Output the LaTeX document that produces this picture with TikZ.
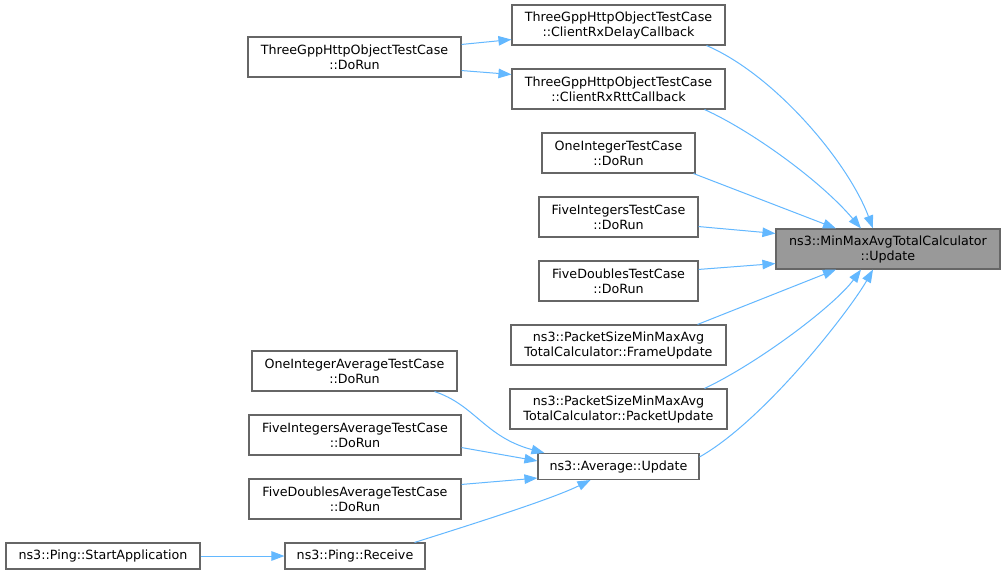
\documentclass[tikz,border=0pt]{standalone}
\usepackage{fontspec}
\setmainfont{DejaVu Sans}
\usetikzlibrary{arrows.meta}
\definecolor{edgeblue}{HTML}{63B8FF}
\definecolor{boxgrey}{HTML}{666666}
\definecolor{hilite}{HTML}{999999}
\begin{document}
\begin{tikzpicture}[x=1pt,y=-1pt,
  fn/.style={draw=boxgrey,line width=1.1pt,fill=white,inner sep=0pt,align=center,
    font=\fontsize{12.7}{15}\selectfont,minimum height=40pt},
  fn1/.style={fn,minimum height=26pt},
  hl/.style={fn,fill=hilite},
  call/.style={draw=edgeblue,line width=1pt,-{Triangle[length=13pt,width=9.5pt]}}]
\useasboundingbox[fill=white] (0,0) rectangle (1005,573);
% nodes
\node[fn,minimum width=213pt] (dorun) at (354.5,57) {ThreeGppHttpObjectTestCase\\::DoRun};
\node[fn,minimum width=213pt] (delay) at (618.5,25) {ThreeGppHttpObjectTestCase\\::ClientRxDelayCallback};
\node[fn,minimum width=213pt] (rtt) at (618.5,89) {ThreeGppHttpObjectTestCase\\::ClientRxRttCallback};
\node[fn,minimum width=153pt] (oneint) at (618.5,153) {OneIntegerTestCase\\::DoRun};
\node[fn,minimum width=159pt] (fiveint) at (618.5,217) {FiveIntegersTestCase\\::DoRun};
\node[fn,minimum width=159pt] (fivedbl) at (618.5,281) {FiveDoublesTestCase\\::DoRun};
\node[fn,minimum width=215pt] (frame) at (618.5,345) {ns3::PacketSizeMinMaxAvg\\TotalCalculator::FrameUpdate};
\node[fn,minimum width=217pt] (packet) at (618.5,409) {ns3::PacketSizeMinMaxAvg\\TotalCalculator::PacketUpdate};
\node[fn1,minimum width=161pt] (avg) at (618.5,466.5) {ns3::Average::Update};
\node[hl,minimum width=224pt] (target) at (888,249) {ns3::MinMaxAvgTotalCalculator\\::Update};
\node[fn,minimum width=205pt] (oneavg) at (354.5,371) {OneIntegerAverageTestCase\\::DoRun};
\node[fn,minimum width=212pt] (fiveintavg) at (355,435) {FiveIntegersAverageTestCase\\::DoRun};
\node[fn,minimum width=212pt] (fivedblavg) at (355,499) {FiveDoublesAverageTestCase\\::DoRun};
\node[fn1,minimum width=140pt] (receive) at (355,556) {ns3::Ping::Receive};
\node[fn1,minimum width=194pt] (start) at (103,556) {ns3::Ping::StartApplication};
% edges
\draw[call] ([yshift=-8pt]dorun.north east) -- ([yshift=6pt]delay.south west);
\draw[call] ([yshift=7pt]dorun.south east) -- ([yshift=-6pt]rtt.north west);
\draw[call] ([xshift=-19pt]delay.south east) .. controls (775,75) and (848,162) .. ([xshift=-15pt]target.north);
\draw[call] ([xshift=-21pt]rtt.south east) .. controls (750,130) and (820,180) .. ([xshift=-27pt]target.north);
\draw[call] ([xshift=-2pt]oneint.south east) -- ([xshift=-52pt]target.north);
\draw[call] ([yshift=11pt]fiveint.south east) -- ([yshift=-5pt]target.north west);
\draw[call] ([yshift=-9pt]fivedbl.north east) -- ([yshift=6pt]target.south west);
\draw[call] ([xshift=-29pt]frame.north east) -- ([xshift=-52pt]target.south);
\draw[call] ([xshift=-23pt]packet.north east) .. controls (760,362) and (835,305) .. ([xshift=-27pt]target.south);
\draw[call] ([yshift=-4pt]avg.north east) .. controls (765,420) and (850,310) .. ([xshift=-15pt]target.south);
\draw[call] ([xshift=-23pt]oneavg.south east) .. controls (475,405) and (485,437) .. ([xshift=7pt]avg.north west);
\draw[call] ([yshift=8pt]fiveintavg.south east) -- ([yshift=-8pt]avg.north west);
\draw[call] ([yshift=-6pt]fivedblavg.north east) -- ([yshift=2pt]avg.south west);
\draw[call] ([xshift=-11pt]receive.north east) .. controls (460,528) and (550,500) .. ([xshift=-28pt]avg.south);
\draw[call] (start.east) -- (receive.west);
\end{tikzpicture}
\end{document}
